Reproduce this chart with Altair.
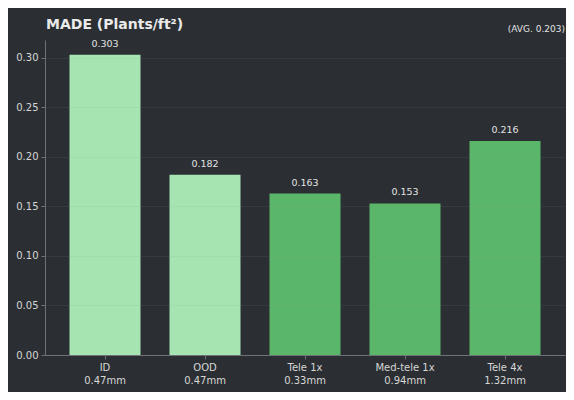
import altair as alt
import pandas as pd

categories = ["ID|0.47mm", "OOD|0.47mm", "Tele 1x|0.33mm", "Med-tele 1x|0.94mm", "Tele 4x|1.32mm"]
values = [0.303, 0.182, 0.163, 0.153, 0.216]
groups = ["light", "light", "dark", "dark", "dark"]
value_labels = ["0.303", "0.182", "0.163", "0.153", "0.216"]
title_text = "MADE (Plants/ft²)"
avg_text = "(AVG. 0.203)"

df = pd.DataFrame({"cat": categories, "val": values, "grp": groups, "lbl": value_labels})

BG = "#2b2f33"
TXT = "#d6d6d6"

xenc = alt.X("cat:N", sort=categories,
             scale=alt.Scale(paddingInner=0.29, paddingOuter=0.245),
             axis=alt.Axis(title=None, labelAngle=0, labelExpr="split(datum.value, '|')",
                           labelLineHeight=13, labelFontSize=10, labelColor=TXT,
                           tickSize=4, tickColor="#6e7276", domainColor="#6e7276",
                           labelPadding=3, grid=False, zindex=1))
yenc = alt.Y("val:Q", scale=alt.Scale(domain=[0, 0.318], nice=False),
             axis=alt.Axis(title=None, values=[0, 0.05, 0.10, 0.15, 0.20, 0.25, 0.30],
                           format=".2f", labelFontSize=10, labelColor=TXT,
                           tickSize=4, tickColor="#6e7276", domainColor="#6e7276",
                           gridColor="#8a8f94", gridOpacity=0.15, gridWidth=0.8,
                           labelPadding=3, zindex=1))

bars = alt.Chart(df).mark_bar(opacity=1).encode(
    x=xenc, y=yenc,
    color=alt.Color("grp:N", scale=alt.Scale(domain=["light", "dark"], range=["#a6e5b1", "#5ab76a"]), legend=None),
)

labels = alt.Chart(df).mark_text(dy=-11, fontSize=9.5, color="#e2e2e2").encode(
    x=alt.X("cat:N", sort=categories), y="val:Q", text="lbl:N"
)

avg = alt.Chart(pd.DataFrame({"t": [avg_text]})).mark_text(
    align="right", baseline="alphabetic", fontSize=9, color="#e2e2e2"
).encode(x=alt.value(520), y=alt.value(-8), text="t:N")

ttl = alt.Chart(pd.DataFrame({"t": [title_text]})).mark_text(
    align="left", baseline="alphabetic", fontSize=14, fontWeight="bold", color="#eaeaea"
).encode(x=alt.value(1), y=alt.value(-11), text="t:N")

chart = alt.layer(bars, labels, avg, ttl).properties(
    width=520, height=315,
    background=BG,
    padding={"left": 37, "top": 32, "right": 1, "bottom": 37},
    autosize=alt.AutoSizeParams(type="none"),
).configure(font="DejaVu Sans").configure_view(stroke=None)

chart.save("out.html", embed_options={"renderer": "svg", "actions": False})
